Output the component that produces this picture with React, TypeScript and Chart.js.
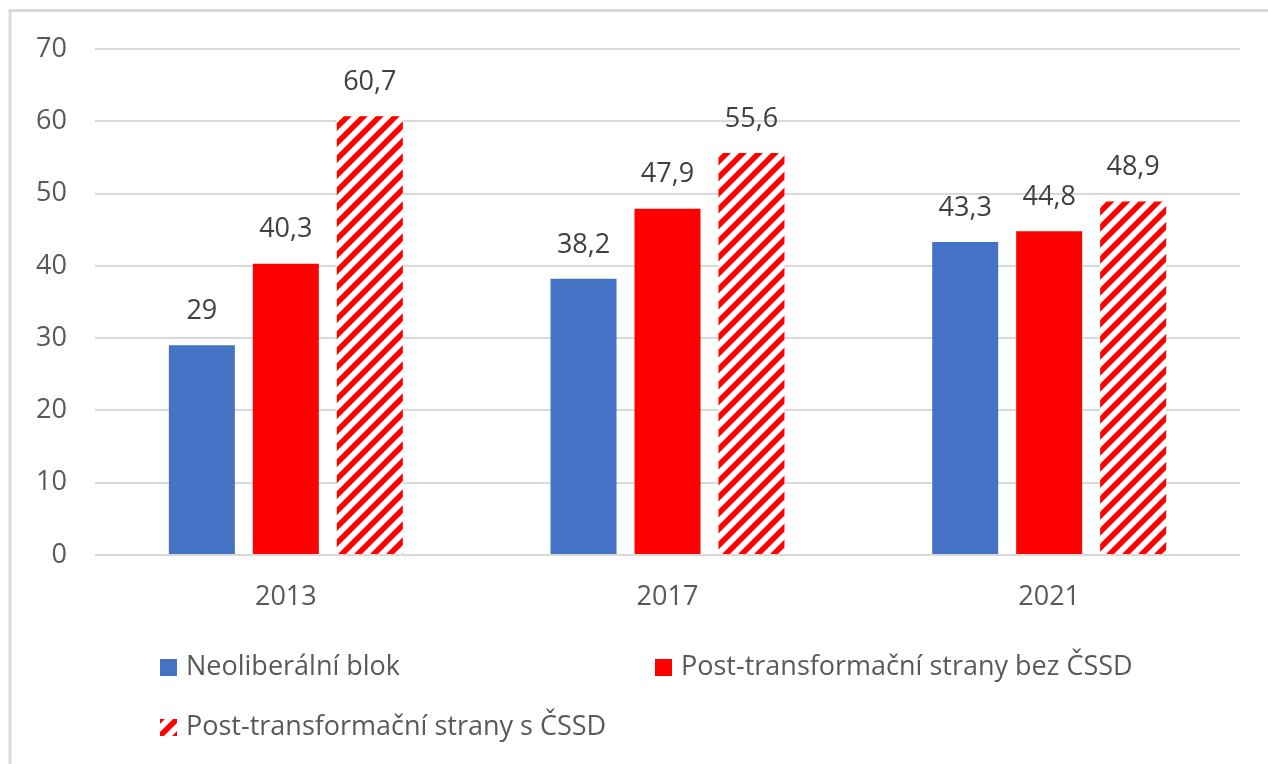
import React, { useEffect, useRef } from "react";
import { Chart, registerables } from "chart.js";

Chart.register(...registerables);

const categories = ["2013", "2017", "2021"];
const neoliberal = [29, 38.2, 43.3];
const postBez = [40.3, 47.9, 44.8];
const postS = [60.7, 55.6, 48.9];
const seriesLabels = [
  "Neoliberální blok",
  "Post-transformační strany bez ČSSD",
  "Post-transformační strany s ČSSD",
];
const yTicks = [0, 10, 20, 30, 40, 50, 60, 70];

const FONT = "'Open Sans', 'Noto Sans', sans-serif";
const FS = 27;
const BLUE = "#4472C4";
const RED = "#FF0000";

function makeHatch(): CanvasPattern | string {
  const s = 16;
  const c = document.createElement("canvas");
  c.width = s;
  c.height = s;
  const ctx = c.getContext("2d");
  if (!ctx) return RED;
  ctx.fillStyle = "#ffffff";
  ctx.fillRect(0, 0, s, s);
  ctx.strokeStyle = RED;
  ctx.lineWidth = 5.5;
  ctx.lineCap = "square";
  for (const k of [-s, 0, s]) {
    ctx.beginPath();
    ctx.moveTo(k - 2, s + 2);
    ctx.lineTo(k + s + 2, -2);
    ctx.stroke();
  }
  const p = ctx.createPattern(c, "repeat");
  return p || RED;
}

export default function App() {
  const ref = useRef<HTMLCanvasElement | null>(null);

  useEffect(() => {
    if (!ref.current) return;
    const hatch = makeHatch();

    const borderPlugin = {
      id: "frameBorder",
      beforeDraw(chart: any) {
        const ctx = chart.ctx;
        ctx.save();
        ctx.fillStyle = "#ffffff";
        ctx.fillRect(0, 0, chart.width, chart.height);
        ctx.strokeStyle = "#d9d9d9";
        ctx.lineWidth = 3;
        ctx.strokeRect(10, 10.5, 1400, 900);
        ctx.restore();
      },
    };

    const labelPlugin = {
      id: "valueLabels",
      afterDatasetsDraw(chart: any) {
        const ctx = chart.ctx;
        ctx.save();
        ctx.font = `${FS}px ${FONT}`;
        ctx.fillStyle = "#404040";
        ctx.textAlign = "center";
        ctx.textBaseline = "middle";
        chart.data.datasets.forEach((ds: any, i: number) => {
          const meta = chart.getDatasetMeta(i);
          meta.data.forEach((bar: any, j: number) => {
            const v = ds.data[j];
            const txt = String(v).replace(".", ",");
            ctx.fillText(txt, bar.x, bar.y - 34);
          });
        });
        ctx.restore();
      },
    };

    const legendPlugin = {
      id: "customLegend",
      afterDraw(chart: any) {
        const ctx = chart.ctx;
        const items = [
          { x: 160, y: 667, i: 0 },
          { x: 655, y: 667, i: 1 },
          { x: 160, y: 727, i: 2 },
        ];
        ctx.save();
        ctx.font = `${FS}px ${FONT}`;
        ctx.textBaseline = "middle";
        ctx.textAlign = "left";
        items.forEach((it) => {
          const ds = chart.data.datasets[it.i];
          ctx.fillStyle = ds.backgroundColor;
          ctx.fillRect(it.x, it.y - 8, 17, 17);
          ctx.fillStyle = "#595959";
          ctx.fillText(ds.label, it.x + 26, it.y);
        });
        ctx.restore();
      },
    };

    const chart = new Chart(ref.current, {
      type: "bar",
      data: {
        labels: categories,
        datasets: [
          { label: seriesLabels[0], data: neoliberal, backgroundColor: BLUE },
          { label: seriesLabels[1], data: postBez, backgroundColor: RED },
          { label: seriesLabels[2], data: postS, backgroundColor: hatch as any },
        ],
      },
      options: {
        responsive: false,
        animation: false,
        events: [],
        layout: { padding: { left: 0, right: 28, top: 49, bottom: 149 } },
        datasets: {
          bar: { categoryPercentage: 0.66, barPercentage: 0.786 },
        },
        plugins: {
          legend: { display: false },
          tooltip: { enabled: false },
          title: { display: false },
        },
        scales: {
          x: {
            grid: { display: false, drawTicks: false },
            border: { display: false },
            ticks: {
              color: "#595959",
              font: { family: FONT, size: FS },
              padding: 26,
            },
            afterFit(scale: any) {
              scale.height = 60;
            },
          },
          y: {
            min: 0,
            max: 70,
            afterBuildTicks(scale: any) {
              scale.ticks = yTicks.map((v) => ({ value: v }));
            },
            grid: { color: "#d9d9d9", lineWidth: 2, drawTicks: false },
            border: { display: false },
            ticks: {
              color: "#595959",
              font: { family: FONT, size: FS },
              padding: 28,
            },
            afterFit(scale: any) {
              scale.width = 95;
            },
          },
        },
      },
      plugins: [borderPlugin, labelPlugin, legendPlugin],
    });

    return () => chart.destroy();
  }, []);

  return (
    <div style={{ position: "absolute", left: 0, top: 0, width: 1268, height: 764, overflow: "hidden" }}>
      <canvas ref={ref} width={1268} height={764} style={{ display: "block" }} />
    </div>
  );
}
